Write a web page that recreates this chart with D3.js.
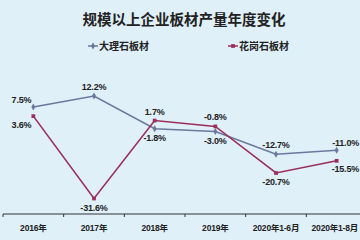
<!DOCTYPE html>
<html lang="zh">
<head>
<meta charset="UTF-8">
<title>规模以上企业板材产量年度变化</title>
<script src="https://d3js.org/d3.v7.min.js"></script>
<style>
    body { margin: 0; background: #dff0f8; }
    svg { display: block; }
    .lbl { font-family: "Liberation Sans", Arial, sans-serif; font-weight: bold; font-size: 9px; fill: #222; letter-spacing: -0.2px; }
    .cat { font-family: "Liberation Sans", "Noto Sans CJK SC", sans-serif; font-weight: bold; font-size: 8.5px; fill: #222; letter-spacing: -0.2px; }
</style>
</head>
<body>
<div id="chart"></div>
<script>
    // 数据
    const categories = ["2016年", "2017年", "2018年", "2019年", "2020年1-6月", "2020年1-8月"];
    const marble = [7.5, 12.2, -1.8, -3.0, -12.7, -11.0];
    const granite = [3.6, -31.6, 1.7, -0.8, -20.7, -15.5];
    // 标签位置
    const marblePos = ["nw", "n", "s", "s", "n", "ne"];
    const granitePos = ["sw", "s", "n", "n", "s", "se"];

    const W = 360, H = 240;
    const svg = d3.select("#chart").append("svg")
        .attr("width", W).attr("height", H);

    svg.append("rect").attr("width", W).attr("height", H).attr("fill", "#dff0f8");

    // 标题
    svg.append("text")
        .attr("x", 184).attr("y", 25)
        .attr("text-anchor", "middle")
        .style("font-family", "'Noto Sans CJK SC', sans-serif")
        .style("font-weight", "bold")
        .style("font-size", "14.5px")
        .style("fill", "#222")
        .text("规模以上企业板材产量年度变化");

    const x = d3.scaleBand().domain(categories).range([3, 367]);
    const y = d3.scaleLinear().domain([-31.6, 12.2]).range([198.5, 96]);

    const series = [
        { name: "大理石板材", values: marble, pos: marblePos, color: "#6b789c", legendX: 88, shape: "diamond" },
        { name: "花岗石板材", values: granite, pos: granitePos, color: "#9a2f5c", legendX: 228, shape: "square" }
    ];

    // 图例
    series.forEach(s => {
        const g = svg.append("g").attr("transform", `translate(${s.legendX},46)`);
        g.append("line").attr("x1", 0).attr("x2", 10).attr("y1", 0).attr("y2", 0)
            .attr("stroke", s.color).attr("stroke-width", 1.5);
        g.append("path").attr("transform", "translate(5,0)")
            .attr("d", d3.symbol(s.shape === "square" ? d3.symbolSquare : d3.symbolDiamond, 14)())
            .attr("fill", s.color);
        g.append("text").attr("x", 11).attr("y", 4)
            .style("font-family", "'Noto Sans CJK SC', sans-serif")
            .style("font-weight", "bold").style("font-size", "10px").style("fill", "#222")
            .text(s.name);
    });

    // x 轴
    const axisY = 214;
    svg.append("line").attr("x1", 3).attr("x2", W).attr("y1", axisY).attr("y2", axisY)
        .attr("stroke", "#333").attr("stroke-width", 1);
    svg.selectAll(".tick").data(categories).enter().append("line")
        .attr("x1", d => x(d)).attr("x2", d => x(d))
        .attr("y1", axisY).attr("y2", axisY + 3)
        .attr("stroke", "#333");
    svg.selectAll(".cat").data(categories).enter().append("text")
        .attr("class", "cat")
        .attr("x", (d, i) => i === categories.length - 1 ? W - 2 : x(d) + x.bandwidth() / 2)
        .attr("y", 231)
        .attr("text-anchor", (d, i) => i === categories.length - 1 ? "end" : "middle")
        .text(d => d);

    const cx = i => x(categories[i]) + x.bandwidth() / 2;
    const line = d3.line()
        .x((d, i) => cx(i))
        .y(d => y(d));

    const offsets = {
        n: [0, -6, "middle"], s: [0, 12, "middle"],
        nw: [-2, -4, "end"], sw: [-2, 12, "end"],
        ne: [0, -4, "end"], se: [0, 11, "end"]
    };
    const lx = (i, p) => (p === "ne" || p === "se") ? W - 1 : cx(i) + offsets[p][0];

    series.forEach(s => {
        svg.append("path").datum(s.values)
            .attr("d", line).attr("fill", "none")
            .attr("stroke", s.color).attr("stroke-width", 1.6);

        svg.selectAll(null).data(s.values).enter().append("path")
            .attr("transform", (d, i) => `translate(${cx(i)},${y(d)})`)
            .attr("d", d3.symbol(s.shape === "square" ? d3.symbolSquare : d3.symbolDiamond, 14)())
            .attr("fill", s.color);

        svg.selectAll(null).data(s.values).enter().append("text")
            .attr("class", "lbl")
            .attr("x", (d, i) => lx(i, s.pos[i]))
            .attr("y", (d, i) => y(d) + offsets[s.pos[i]][1])
            .attr("text-anchor", (d, i) => offsets[s.pos[i]][2])
            .text(d => d.toFixed(1) + "%");
    });
</script>
</body>
</html>
